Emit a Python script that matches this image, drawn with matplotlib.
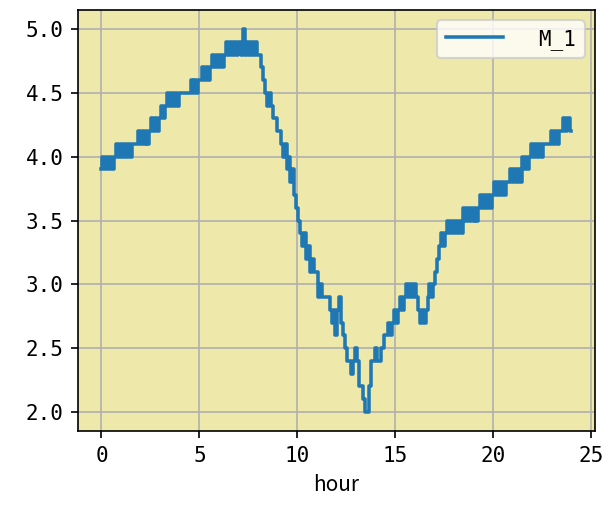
import numpy as np
import matplotlib
matplotlib.use("Agg")
from matplotlib import pyplot as plt

# M_1 every 0.1 hour (0.0 .. 24.0)
M_1 = [
  3.9, 4.0, 3.9, 4.0, 3.9, 4.0, 3.9, 4.0, 4.1, 4.0,
  4.1, 4.0, 4.1, 4.0, 4.1, 4.0, 4.1, 4.1, 4.1, 4.2,
  4.1, 4.2, 4.1, 4.2, 4.1, 4.2, 4.3, 4.2, 4.3, 4.2,
  4.3, 4.4, 4.3, 4.4, 4.5, 4.4, 4.5, 4.4, 4.5, 4.4,
  4.5, 4.5, 4.5, 4.5, 4.5, 4.5, 4.6, 4.5, 4.6, 4.5,
  4.6, 4.6, 4.7, 4.6, 4.7, 4.6, 4.7, 4.8, 4.7, 4.8,
  4.7, 4.8, 4.7, 4.8, 4.9, 4.8, 4.9, 4.8, 4.9, 4.8,
  4.9, 4.9, 4.8, 5.0, 4.8, 4.9, 4.8, 4.9, 4.8, 4.9,
  4.8, 4.8, 4.7, 4.6, 4.5, 4.4, 4.5, 4.4, 4.3, 4.3,
  4.2, 4.2, 4.1, 4.0, 4.1, 3.9, 4.0, 3.8, 3.9, 3.7,
  3.6, 3.5, 3.4, 3.3, 3.4, 3.2, 3.3, 3.1, 3.2, 3.1,
  3.1, 2.9, 3.0, 2.9, 2.9, 2.9, 2.9, 2.8, 2.7, 2.8,
  2.6, 2.8, 2.9, 2.7, 2.6, 2.5, 2.4, 2.4, 2.3, 2.4,
  2.5, 2.4, 2.2, 2.2, 2.1, 2.0, 2.0, 2.2, 2.4, 2.4,
  2.5, 2.4, 2.4, 2.5, 2.5, 2.6, 2.6, 2.7, 2.6, 2.7,
  2.8, 2.7, 2.8, 2.9, 2.8, 2.9, 3.0, 2.9, 3.0, 2.9,
  3.0, 2.9, 2.8, 2.7, 2.8, 2.7, 2.8, 2.9, 3.0, 2.9,
  3.0, 3.1, 3.2, 3.3, 3.4, 3.3, 3.4, 3.5, 3.4, 3.5,
  3.4, 3.5, 3.4, 3.5, 3.4, 3.6, 3.5, 3.6, 3.5, 3.6,
  3.5, 3.6, 3.5, 3.6, 3.7, 3.6, 3.7, 3.6, 3.7, 3.6,
  3.7, 3.8, 3.7, 3.8, 3.7, 3.8, 3.7, 3.8, 3.8, 3.9,
  3.8, 3.9, 3.8, 3.9, 3.8, 4.0, 3.9, 4.0, 3.9, 4.0,
  4.1, 4.0, 4.1, 4.0, 4.1, 4.0, 4.1, 4.1, 4.1, 4.1,
  4.2, 4.1, 4.2, 4.1, 4.2, 4.2, 4.3, 4.2, 4.3, 4.3,
  4.2,
]
hour = np.arange(len(M_1)) * 0.1

plt.rcParams['font.family'] = ['DejaVu Sans Mono']

fig = plt.figure(figsize=(613 / 150, 514 / 150), dpi=150)
ax = fig.add_axes([0.1272, 0.1615, 0.8434, 0.819])
ax.set_facecolor('#eee8aa')

ax.plot(hour, M_1, label='M_1', drawstyle='steps-mid', linewidth=1.7)
ax.grid(True)
ax.set_xlabel('hour', family=['Noto Sans CJK JP', 'DejaVu Sans'])
ax.legend(loc='upper right', handlelength=2.75, handletextpad=1.7)

fig.savefig('out.png', dpi=150)
